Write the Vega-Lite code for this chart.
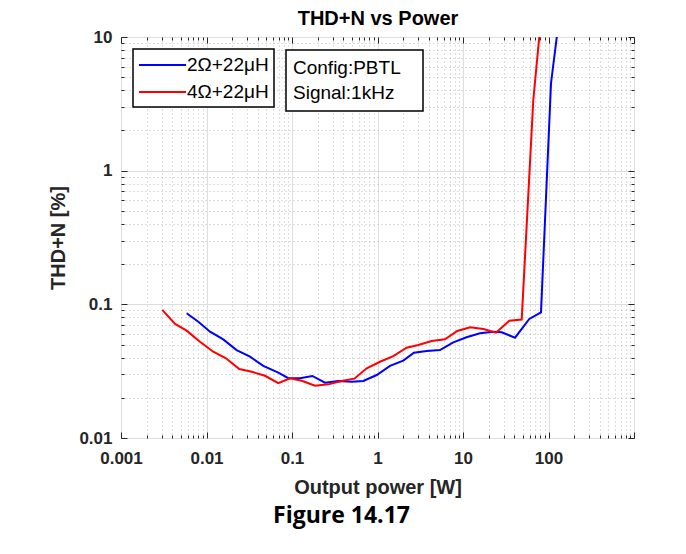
{
  "$schema": "https://vega.github.io/schema/vega-lite/v6.json",
  "width": 513,
  "height": 401,
  "autosize": {"type": "none"},
  "padding": {"left": 121, "top": 37, "right": 52, "bottom": 116},
  "background": "white",
  "config": {
    "view": {"stroke": "#262626", "strokeWidth": 1},
    "font": "Liberation Sans",
    "legend": {"strokeWidth": 1.5}
  },
  "title": {
    "text": "Figure 14.17",
    "orient": "bottom",
    "anchor": "middle",
    "frame": "group",
    "font": "Open Sans",
    "fontWeight": "bold",
    "fontSize": 23,
    "color": "black",
    "dx": -36,
    "offset": 8
  },
  "datasets": {
    "thd": [
      {"load": "2Ω+22μH", "power": 0.00586, "thd": 0.0857},
      {"load": "2Ω+22μH", "power": 0.00802, "thd": 0.0741},
      {"load": "2Ω+22μH", "power": 0.0110, "thd": 0.0624},
      {"load": "2Ω+22μH", "power": 0.0157, "thd": 0.0547},
      {"load": "2Ω+22μH", "power": 0.0225, "thd": 0.0455},
      {"load": "2Ω+22μH", "power": 0.0323, "thd": 0.0406},
      {"load": "2Ω+22μH", "power": 0.0461, "thd": 0.0346},
      {"load": "2Ω+22μH", "power": 0.0692, "thd": 0.0308},
      {"load": "2Ω+22μH", "power": 0.0906, "thd": 0.0280},
      {"load": "2Ω+22μH", "power": 0.124, "thd": 0.0280},
      {"load": "2Ω+22μH", "power": 0.173, "thd": 0.0291},
      {"load": "2Ω+22μH", "power": 0.243, "thd": 0.0259},
      {"load": "2Ω+22μH", "power": 0.348, "thd": 0.0267},
      {"load": "2Ω+22μH", "power": 0.499, "thd": 0.0264},
      {"load": "2Ω+22μH", "power": 0.682, "thd": 0.0267},
      {"load": "2Ω+22μH", "power": 0.979, "thd": 0.0296},
      {"load": "2Ω+22μH", "power": 1.40, "thd": 0.0346},
      {"load": "2Ω+22μH", "power": 2.00, "thd": 0.0379},
      {"load": "2Ω+22μH", "power": 2.67, "thd": 0.0435},
      {"load": "2Ω+22μH", "power": 3.76, "thd": 0.0448},
      {"load": "2Ω+22μH", "power": 5.38, "thd": 0.0455},
      {"load": "2Ω+22μH", "power": 7.70, "thd": 0.0520},
      {"load": "2Ω+22μH", "power": 11.0, "thd": 0.0567},
      {"load": "2Ω+22μH", "power": 15.8, "thd": 0.0607},
      {"load": "2Ω+22μH", "power": 22.6, "thd": 0.0624},
      {"load": "2Ω+22μH", "power": 28.4, "thd": 0.0618},
      {"load": "2Ω+22μH", "power": 40.6, "thd": 0.0563},
      {"load": "2Ω+22μH", "power": 59.6, "thd": 0.0777},
      {"load": "2Ω+22μH", "power": 81.7, "thd": 0.0872},
      {"load": "2Ω+22μH", "power": 107, "thd": 4.51},
      {"load": "2Ω+22μH", "power": 125, "thd": 10},
      {"load": "4Ω+22μH", "power": 0.00304, "thd": 0.0908},
      {"load": "4Ω+22μH", "power": 0.00429, "thd": 0.0713},
      {"load": "4Ω+22μH", "power": 0.00586, "thd": 0.0635},
      {"load": "4Ω+22μH", "power": 0.00839, "thd": 0.0525},
      {"load": "4Ω+22μH", "power": 0.0120, "thd": 0.0442},
      {"load": "4Ω+22μH", "power": 0.0169, "thd": 0.0395},
      {"load": "4Ω+22μH", "power": 0.0242, "thd": 0.0328},
      {"load": "4Ω+22μH", "power": 0.0338, "thd": 0.0313},
      {"load": "4Ω+22μH", "power": 0.0483, "thd": 0.0292},
      {"load": "4Ω+22μH", "power": 0.0692, "thd": 0.0257},
      {"load": "4Ω+22μH", "power": 0.0949, "thd": 0.0280},
      {"load": "4Ω+22μH", "power": 0.130, "thd": 0.0268},
      {"load": "4Ω+22μH", "power": 0.186, "thd": 0.0246},
      {"load": "4Ω+22μH", "power": 0.266, "thd": 0.0252},
      {"load": "4Ω+22μH", "power": 0.381, "thd": 0.0267},
      {"load": "4Ω+22μH", "power": 0.536, "thd": 0.0278},
      {"load": "4Ω+22μH", "power": 0.748, "thd": 0.0332},
      {"load": "4Ω+22μH", "power": 1.07, "thd": 0.0372},
      {"load": "4Ω+22μH", "power": 1.53, "thd": 0.0410},
      {"load": "4Ω+22μH", "power": 2.19, "thd": 0.0474},
      {"load": "4Ω+22μH", "power": 3.00, "thd": 0.0497},
      {"load": "4Ω+22μH", "power": 4.30, "thd": 0.0532},
      {"load": "4Ω+22μH", "power": 6.15, "thd": 0.0547},
      {"load": "4Ω+22μH", "power": 8.58, "thd": 0.0632},
      {"load": "4Ω+22μH", "power": 12.1, "thd": 0.0673},
      {"load": "4Ω+22μH", "power": 17.3, "thd": 0.0654},
      {"load": "4Ω+22μH", "power": 24.3, "thd": 0.0614},
      {"load": "4Ω+22μH", "power": 34.8, "thd": 0.0755},
      {"load": "4Ω+22μH", "power": 48.6, "thd": 0.0770},
      {"load": "4Ω+22μH", "power": 66.4, "thd": 3.38},
      {"load": "4Ω+22μH", "power": 78.0, "thd": 10}
    ],
    "info": [
      {"info": "Config:PBTL"},
      {"info": "Signal:1kHz"}
    ]
  },
  "layer": [
    {
      "data": {"name": "thd"},
      "mark": {"type": "line", "strokeWidth": 2, "clip": true},
      "encoding": {
        "x": {
          "field": "power",
          "type": "quantitative",
          "scale": {"type": "log", "domain": [0.001, 1000]},
          "axis": {
            "orient": "bottom",
            "title": "Output power [W]",
            "titleFont": "Liberation Sans",
            "titleFontSize": 20,
            "titleFontWeight": "bold",
            "titleColor": "#262626",
            "titlePadding": 8,
            "values": [0.001, 0.002, 0.003, 0.004, 0.005, 0.006, 0.007, 0.008, 0.009, 0.01, 0.02, 0.03, 0.04, 0.05, 0.06, 0.07, 0.08, 0.09, 0.1, 0.2, 0.3, 0.4, 0.5, 0.6, 0.7, 0.8, 0.9, 1, 2, 3, 4, 5, 6, 7, 8, 9, 10, 20, 30, 40, 50, 60, 70, 80, 90, 100, 200, 300, 400, 500, 600, 700, 800, 900, 1000],
            "labelExpr": "indexof([0.001, 0.01, 0.1, 1, 10, 100], datum.value) >= 0 ? format(datum.value, '~g') : ''",
            "labelFont": "Liberation Sans",
            "labelFontSize": 17,
            "labelFontWeight": "bold",
            "labelColor": "#262626",
            "labelFlush": false,
            "labelOverlap": false,
            "labelPadding": 18,
            "domain": false,
            "tickColor": "#262626",
            "tickSize": {"condition": {"test": "indexof([0.001, 0.01, 0.1, 1, 10, 100, 1000], datum.value) >= 0", "value": -6}, "value": -3},
            "grid": true,
            "gridColor": {"condition": {"test": "indexof([0.001, 0.01, 0.1, 1, 10, 100, 1000], datum.value) >= 0", "value": "#dedede"}, "value": "#bdbdbd"},
            "gridDash": {"condition": {"test": "indexof([0.001, 0.01, 0.1, 1, 10, 100, 1000], datum.value) >= 0", "value": []}, "value": [1, 3]}
          }
        },
        "y": {
          "field": "thd",
          "type": "quantitative",
          "scale": {"type": "log", "domain": [0.01, 10]},
          "axis": {
            "orient": "left",
            "title": "THD+N [%]",
            "titleFont": "Liberation Sans",
            "titleFontSize": 20,
            "titleFontWeight": "bold",
            "titleColor": "#262626",
            "titlePadding": 10,
            "values": [0.01, 0.02, 0.03, 0.04, 0.05, 0.06, 0.07, 0.08, 0.09, 0.1, 0.2, 0.3, 0.4, 0.5, 0.6, 0.7, 0.8, 0.9, 1, 2, 3, 4, 5, 6, 7, 8, 9, 10],
            "labelExpr": "indexof([0.01, 0.1, 1, 10], datum.value) >= 0 ? format(datum.value, '~g') : ''",
            "labelFont": "Liberation Sans",
            "labelFontSize": 17,
            "labelFontWeight": "bold",
            "labelColor": "#262626",
            "labelOverlap": false,
            "labelPadding": 15,
            "domain": false,
            "tickColor": "#262626",
            "tickSize": {"condition": {"test": "indexof([0.01, 0.1, 1, 10], datum.value) >= 0", "value": -6}, "value": -3},
            "grid": true,
            "gridColor": {"condition": {"test": "indexof([0.01, 0.1, 1, 10], datum.value) >= 0", "value": "#dedede"}, "value": "#bdbdbd"},
            "gridDash": {"condition": {"test": "indexof([0.01, 0.1, 1, 10], datum.value) >= 0", "value": []}, "value": [1, 3]}
          }
        },
        "color": {
          "field": "load",
          "type": "nominal",
          "scale": {"domain": ["2Ω+22μH", "4Ω+22μH"], "range": ["#0000ff", "#ff0000"]},
          "legend": {
            "orient": "none",
            "legendX": 12,
            "legendY": 12,
            "title": null,
            "strokeColor": "black",
            "fillColor": "white",
            "padding": 5,
            "symbolType": "M-1,0H3.7",
            "symbolSize": 400,
            "symbolStrokeWidth": 2,
            "labelFont": "Liberation Sans",
            "labelFontSize": 19,
            "labelColor": "black",
            "labelOffset": 27,
            "rowPadding": 6
          }
        }
      }
    },
    {
      "data": {"name": "thd"},
      "mark": {"type": "line", "opacity": 0},
      "encoding": {
        "detail": {"field": "load"},
        "x": {
          "field": "power",
          "type": "quantitative",
          "scale": {"type": "log", "domain": [0.001, 1000]},
          "axis": {
            "orient": "top",
            "title": "THD+N vs Power",
            "titleFont": "Liberation Sans",
            "titleFontSize": 20,
            "titleFontWeight": "bold",
            "titleColor": "black",
            "titlePadding": 8,
            "values": [0.001, 0.002, 0.003, 0.004, 0.005, 0.006, 0.007, 0.008, 0.009, 0.01, 0.02, 0.03, 0.04, 0.05, 0.06, 0.07, 0.08, 0.09, 0.1, 0.2, 0.3, 0.4, 0.5, 0.6, 0.7, 0.8, 0.9, 1, 2, 3, 4, 5, 6, 7, 8, 9, 10, 20, 30, 40, 50, 60, 70, 80, 90, 100, 200, 300, 400, 500, 600, 700, 800, 900, 1000],
            "labels": false,
            "domain": false,
            "grid": false,
            "tickColor": "#262626",
            "tickSize": {"condition": {"test": "indexof([0.001, 0.01, 0.1, 1, 10, 100, 1000], datum.value) >= 0", "value": -6}, "value": -3}
          }
        },
        "y": {
          "field": "thd",
          "type": "quantitative",
          "scale": {"type": "log", "domain": [0.01, 10]},
          "axis": {
            "orient": "right",
            "title": null,
            "values": [0.01, 0.02, 0.03, 0.04, 0.05, 0.06, 0.07, 0.08, 0.09, 0.1, 0.2, 0.3, 0.4, 0.5, 0.6, 0.7, 0.8, 0.9, 1, 2, 3, 4, 5, 6, 7, 8, 9, 10],
            "labels": false,
            "domain": false,
            "grid": false,
            "tickColor": "#262626",
            "tickSize": {"condition": {"test": "indexof([0.01, 0.1, 1, 10], datum.value) >= 0", "value": -6}, "value": -3}
          }
        }
      }
    },
    {
      "data": {"name": "info"},
      "mark": {"type": "point", "opacity": 0},
      "encoding": {
        "shape": {
          "field": "info",
          "type": "nominal",
          "legend": {
            "orient": "none",
            "legendX": 165,
            "legendY": 13,
            "title": " ",
            "titleOrient": "right",
            "titlePadding": 14,
            "titleFontSize": 19,
            "strokeColor": "black",
            "fillColor": "white",
            "padding": 8,
            "symbolSize": 0,
            "symbolOpacity": 0,
            "symbolStrokeWidth": 0,
            "labelFont": "Liberation Sans",
            "labelFontSize": 19,
            "labelColor": "black",
            "labelOffset": -20,
            "rowPadding": 5
          }
        }
      }
    }
  ],
  "resolve": {"axis": {"x": "independent", "y": "independent"}}
}
